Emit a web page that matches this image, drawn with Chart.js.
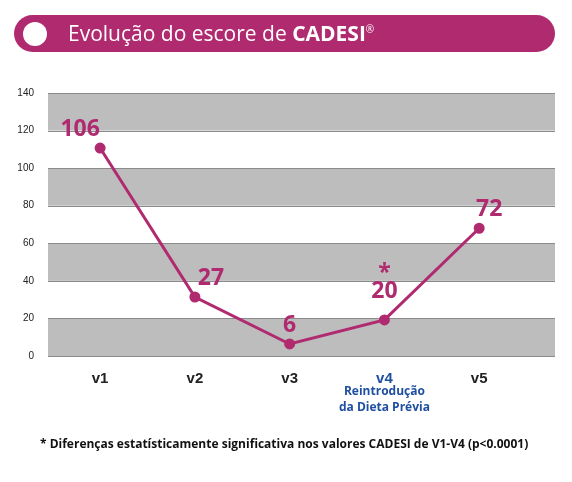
<!DOCTYPE html>
<html><head><meta charset="utf-8">
<script src="https://cdn.jsdelivr.net/npm/chart.js@4"></script>
<style>
body{margin:0;width:572px;height:482px;background:#fff;font-family:"Open Sans",sans-serif;position:relative;overflow:hidden}
#head{position:absolute;left:14px;top:15px;width:541px;height:37px;background:#b02a6f;border-radius:19px}
#dot{position:absolute;left:9px;top:7px;width:24px;height:24px;border-radius:50%;background:#fff}
#title{position:absolute;left:54px;top:4px;color:#fff;font-size:21px;white-space:nowrap}
#title sup{font-size:10px}
#foot{position:absolute;left:40px;top:435px;font-size:12px;font-weight:bold;color:#111;white-space:nowrap}
canvas{position:absolute;left:0;top:0}
</style></head><body>
<canvas id="c" width="572" height="482"></canvas>
<div id="head"><div id="dot"></div><div id="title">Evolução do escore de <b>CADESI</b><sup>®</sup></div></div>
<div id="foot">* Diferenças estatísticamente significativa nos valores CADESI de V1-V4 (p&lt;0.0001)</div>
<script>
// categorias e valores
const visitas = ["v1", "v2", "v3", "v4", "v5"];
const valoresPlot = [110.7, 31.4, 6.4, 19.2, 68];
const rotulos = ["106", "27", "6", "20", "72"];
const magenta = "#b02a6f";

// faixas cinzas e rótulos
const extras = {
  id: "extras",
  beforeDatasetsDraw(chart) {
    const ctx = chart.ctx, a = chart.chartArea, y = chart.scales.y;
    ctx.save();
    for (let v = 0; v < 140; v += 40) {
      ctx.fillStyle = "#bdbdbd";
      ctx.fillRect(a.left, y.getPixelForValue(v + 20), a.right - a.left, y.getPixelForValue(v) - y.getPixelForValue(v + 20));
    }
    ctx.strokeStyle = "#8a8a8a"; ctx.lineWidth = 1;
    for (let v = 0; v <= 140; v += 20) {
      const py = Math.round(y.getPixelForValue(v)) + 0.5;
      ctx.beginPath(); ctx.moveTo(a.left, py); ctx.lineTo(a.right, py); ctx.stroke();
    }
    ctx.restore();
  },
  afterDatasetsDraw(chart) {
    const ctx = chart.ctx, x = chart.scales.x, y = chart.scales.y;
    ctx.save();
    ctx.fillStyle = magenta;
    ctx.font = "bold 23px 'Open Sans'";
    ctx.textAlign = "center";
    const off = [[-20, -12], [16, -12], [0, -12], [0, -22], [10, -12]];
    rotulos.forEach((t, i) => {
      ctx.fillText(t, x.getPixelForValue(i + 1) + off[i][0], y.getPixelForValue(valoresPlot[i]) + off[i][1]);
    });
    ctx.fillText("*", x.getPixelForValue(4), y.getPixelForValue(valoresPlot[3]) - 40);
    ctx.fillStyle = "#1f4fa0";
    ctx.font = "bold 12px 'Open Sans'";
    ctx.fillText("Reintrodução", x.getPixelForValue(4), 395);
    ctx.fillText("da Dieta Prévia", x.getPixelForValue(4), 411);
    ctx.restore();
  }
};

new Chart(document.getElementById("c").getContext("2d"), {
  type: "line",
  data: {
    datasets: [{
      data: valoresPlot.map((v, i) => ({ x: i + 1, y: v })),
      borderColor: magenta, backgroundColor: magenta,
      borderWidth: 3, pointRadius: 4, tension: 0
    }]
  },
  options: {
    responsive: false, animation: false,
    layout: { padding: { top: 93, right: 17, left: 0, bottom: 0 } },
    plugins: { legend: { display: false }, tooltip: { enabled: false } },
    scales: {
      x: {
        type: "linear", min: 0.45, max: 5.8,
        afterFit: s => { s.height = 126; },
        afterBuildTicks: s => { s.ticks = visitas.map((v, i) => ({ value: i + 1 })); },
        grid: { display: false }, border: { display: false },
        ticks: {
          callback: v => visitas[v - 1],
          color: c => c.tick.value === 4 ? "#1f4fa0" : "#222",
          font: { size: 15, weight: "bold" }, padding: 6
        }
      },
      y: {
        min: 0, max: 140,
        afterFit: s => { s.width = 48; },
        grid: { display: false }, border: { display: false },
        ticks: { stepSize: 20, color: "#222", font: { size: 10 }, padding: 6 }
      }
    }
  },
  plugins: [extras]
});
</script>
</body></html>
